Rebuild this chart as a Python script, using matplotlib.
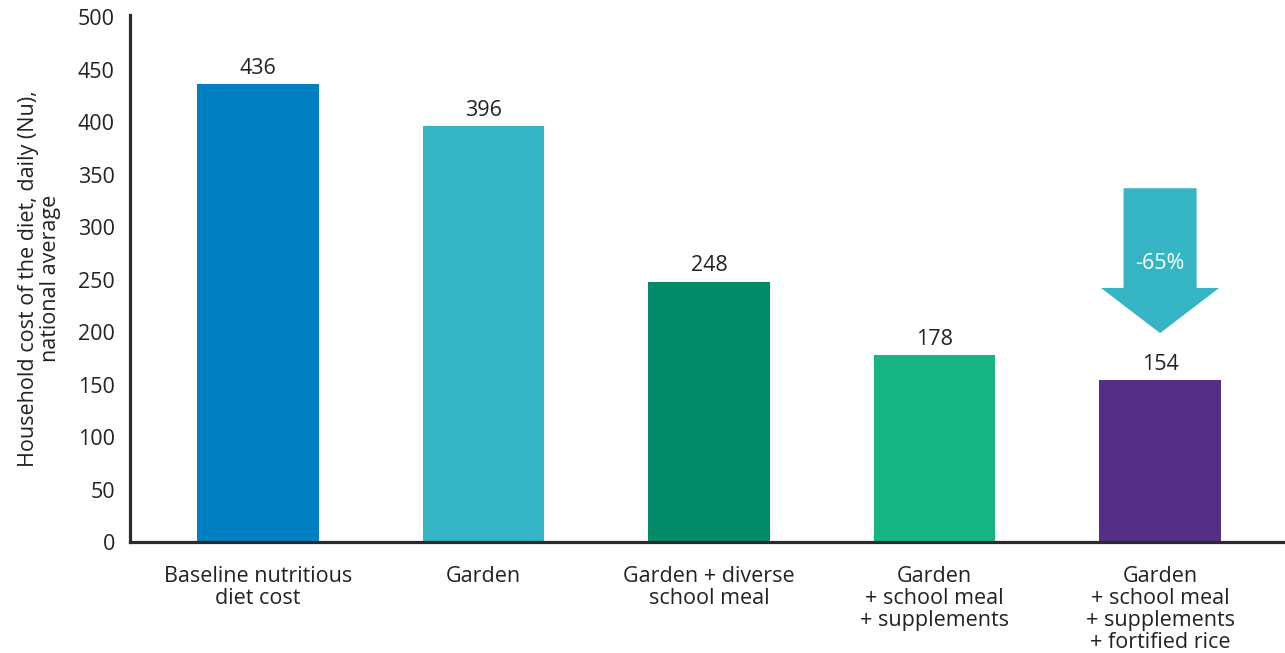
import matplotlib
matplotlib.use("Agg")
import matplotlib.pyplot as plt
from matplotlib.patches import Polygon

plt.rcParams['font.family'] = ['Open Sans', 'DejaVu Sans']

# scenario costs, Nu per day
scenarios = ['Baseline nutritious\ndiet cost',
             'Garden',
             'Garden + diverse\nschool meal',
             'Garden\n+ school meal\n+ supplements',
             'Garden\n+ school meal\n+ supplements\n+ fortified rice']
costs = [436, 396, 248, 178, 154]
colors = ['#0080C3', '#35B5C3', '#038A68', '#17B484', '#552E88']

FS = 15.5

fig = plt.figure(figsize=(12.85, 6.53), dpi=100)
ax = fig.add_axes([0.1012, 0.170, 0.8988, 0.807])

x = list(range(len(costs)))
ax.bar(x, costs, width=0.54, color=colors, zorder=2)

for xi, v in zip(x, costs):
    ax.annotate(str(v), (xi, v), xytext=(0, 4), textcoords='offset points',
                ha='center', va='bottom', fontsize=FS, color='#222222')

# reduction arrow over the last bar
drop = round((costs[-1] / costs[0] - 1) * 100)
cx = x[-1]
shaft, head = 0.162, 0.262
arrow = Polygon([(cx - shaft, 337), (cx + shaft, 337), (cx + shaft, 242),
                 (cx + head, 242), (cx, 199), (cx - head, 242),
                 (cx - shaft, 242)], closed=True, color='#35B5C3', lw=0, zorder=3)
ax.add_patch(arrow)
ax.text(cx, 265, f'{drop}%', ha='center', va='center', color='white',
        fontsize=FS, zorder=4)

ax.set_xlim(-0.568, 4.554)
ax.set_ylim(0, 502)
ax.set_yticks(range(0, 501, 50))
ax.set_xticks(x)
ax.set_xticklabels(scenarios, fontsize=FS, color='#222222', linespacing=1.08)
ax.tick_params(axis='y', length=0, pad=11, labelsize=FS, labelcolor='#222222')
ax.tick_params(axis='x', length=0, pad=17)

for s in ['top', 'right']:
    ax.spines[s].set_visible(False)
for s in ['left', 'bottom']:
    ax.spines[s].set_linewidth(2.3)
    ax.spines[s].set_color('#2b2b2b')

ax.set_ylabel('Household cost of the diet, daily (Nu),\nnational average',
              fontsize=FS, color='#222222', linespacing=1.05, labelpad=12)

fig.savefig('out.png', dpi=100)
